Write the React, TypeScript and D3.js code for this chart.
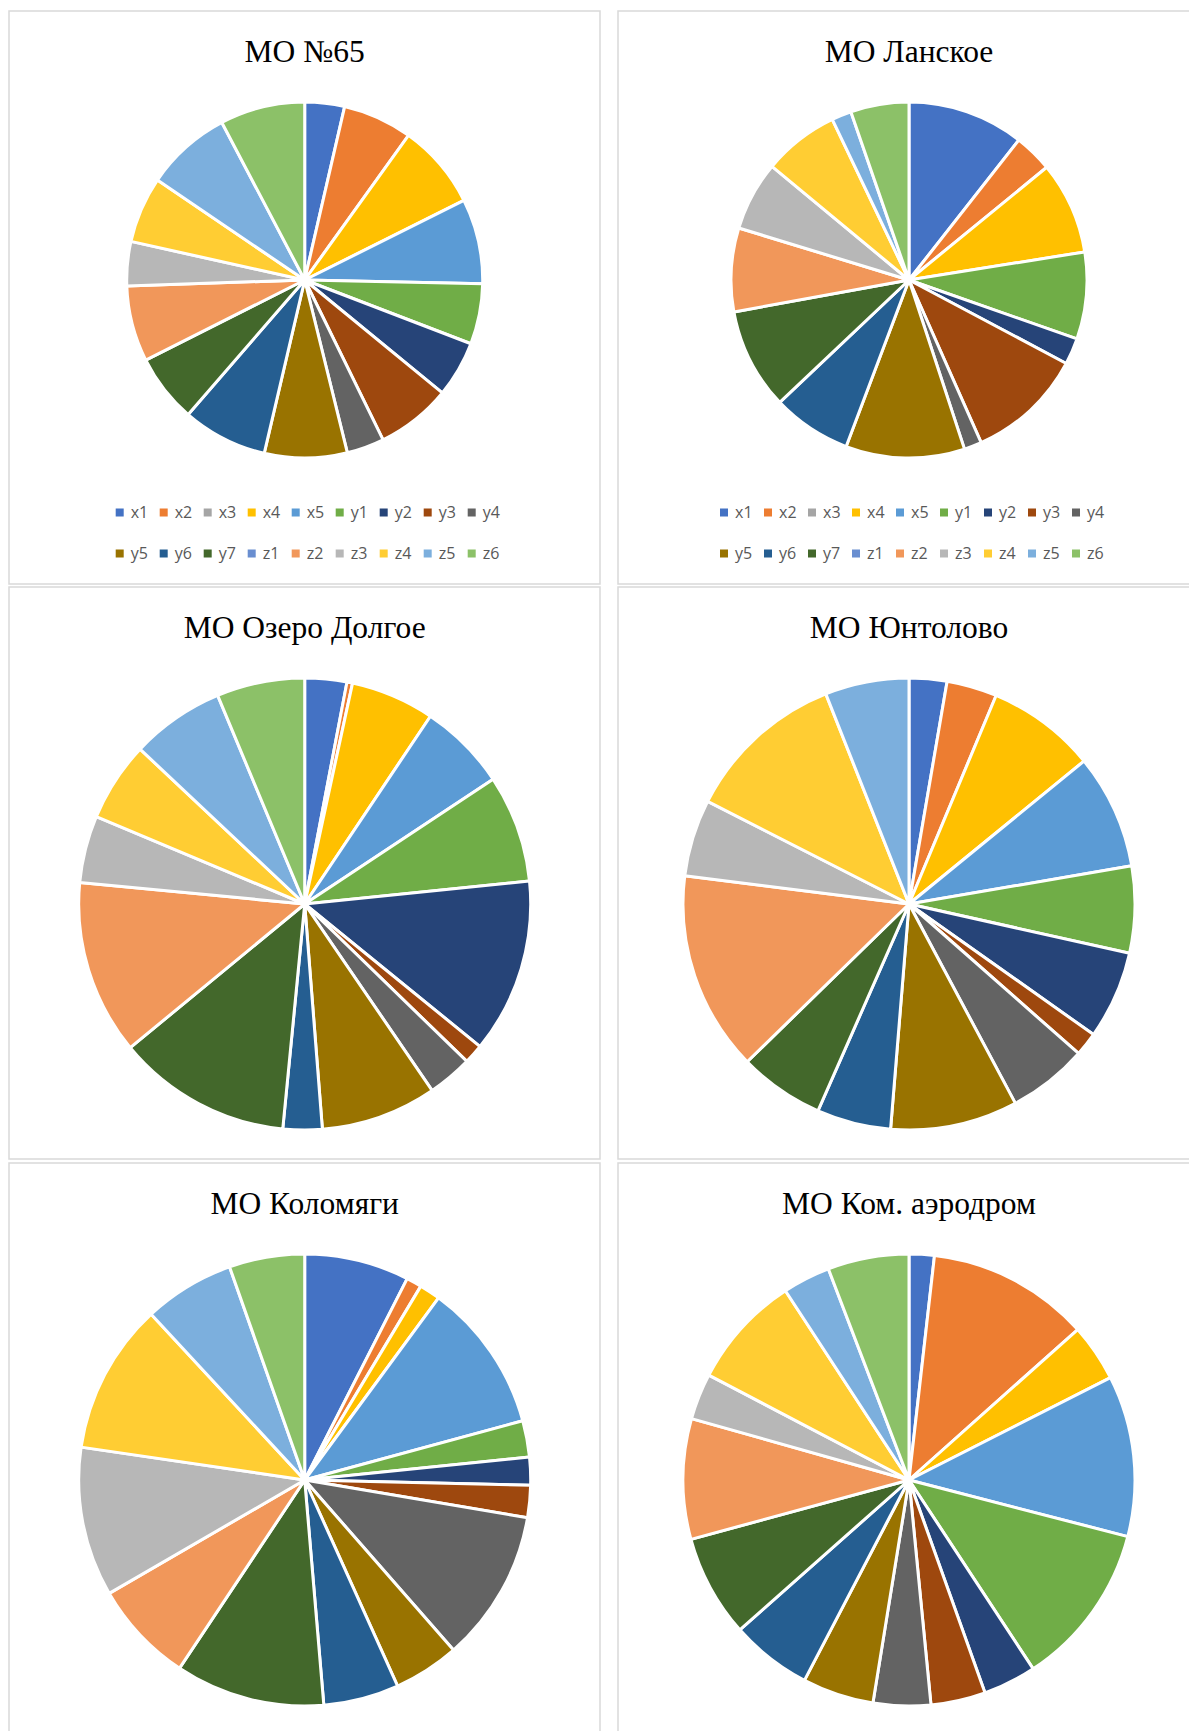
import * as d3 from "d3";

// categories shared by all six pies
const categories = ["x1", "x2", "x3", "x4", "x5", "y1", "y2", "y3", "y4", "y5", "y6", "y7", "z1", "z2", "z3", "z4", "z5", "z6"];
const colors = [
  "#4472C4", "#ED7D31", "#A5A5A5", "#FFC000", "#5B9BD5", "#70AD47",
  "#264478", "#9E480E", "#636363", "#997300", "#255E91", "#43682B",
  "#698ED0", "#F1975A", "#B7B7B7", "#FFCD33", "#7CAFDD", "#8CC168",
];

// shares (%), in category order
const mo65 = [3.6, 6.3, 0, 7.7, 7.7, 5.5, 5.1, 6.8, 3.4, 7.5, 7.7, 6.2, 0, 6.9, 4.0, 6.0, 7.8, 7.7];
const lanskoe = [10.6, 3.5, 0, 8.4, 0, 7.9, 2.4, 10.6, 1.6, 10.8, 7.2, 9.2, 0, 7.6, 6.3, 6.9, 1.8, 5.3];
const ozeroDolgoe = [3.0, 0.4, 0, 6.0, 6.3, 7.7, 12.5, 1.4, 3.2, 8.3, 2.8, 12.5, 0, 12.5, 4.8, 5.7, 6.7, 6.3];
const yuntolovo = [2.7, 3.6, 0, 7.8, 8.2, 6.2, 6.3, 1.7, 5.7, 9.1, 5.3, 6.1, 0, 14.3, 5.5, 11.5, 6.0, 0];
const kolomyagi = [7.5, 1.1, 0, 1.5, 10.7, 2.6, 2.0, 2.3, 10.9, 4.7, 5.4, 10.7, 0, 7.3, 10.7, 10.8, 6.5, 5.4];
const komAerodrom = [1.8, 11.6, 0, 4.1, 11.5, 11.7, 3.8, 3.9, 4.1, 5.1, 5.8, 7.3, 0, 8.6, 3.3, 8.1, 3.4, 5.8];

const titles = ["МО №65", "МО Ланское", "МО Озеро Долгое", "МО Юнтолово", "МО Коломяги", "МО Ком. аэродром"];
const series = [mo65, lanskoe, ozeroDolgoe, yuntolovo, kolomyagi, komAerodrom];

const W = 1189;
const H = 1731;

// panel frames: two columns, three rows
const cols = [
  { x: 9, w: 591, cx: 304.7 },
  { x: 618, w: 590, cx: 909 },
];
const rows = [
  { y: 11, h: 573, cy: 280, r: 178, legend: true },
  { y: 587, h: 572, cy: 904, r: 226, legend: false },
  { y: 1163, h: 580, cy: 1480, r: 226, legend: false },
];

const pie = d3.pie<number>().sort(null).value((d) => d);

function Panel({ idx }: { idx: number }) {
  const col = cols[idx % 2];
  const row = rows[Math.floor(idx / 2)];
  const arcs = pie(series[idx]);
  const arc = d3.arc<d3.PieArcDatum<number>>().innerRadius(0).outerRadius(row.r);

  const perRow = 9;
  const pitch = 44;
  const legendX = col.cx - 189;

  return (
    <g>
      <rect x={col.x} y={row.y} width={col.w} height={row.h} fill="#fff" stroke="#d9d9d9" strokeWidth={1.5} />
      <text
        x={col.cx}
        y={row.y + 51}
        textAnchor="middle"
        fontFamily="'Liberation Serif', 'Times New Roman', serif"
        fontSize={31.5}
        fill="#000"
      >
        {titles[idx]}
      </text>
      <g transform={`translate(${col.cx},${row.cy})`}>
        {arcs.map((a, i) =>
          a.value > 0 ? (
            <path key={i} d={arc(a) || ""} fill={colors[i]} stroke="#fff" strokeWidth={3} strokeLinejoin="round" />
          ) : null
        )}
      </g>
      {row.legend && (
        <g fontFamily="'Open Sans', 'Liberation Sans', sans-serif" fontSize={16} fill="#595959">
          {categories.map((c, i) => {
            const lx = legendX + (i % perRow) * pitch;
            const ly = row.y + 501.5 + Math.floor(i / perRow) * 41;
            return (
              <g key={c}>
                <rect x={lx} y={ly - 4} width={8} height={8} fill={colors[i]} />
                <text x={lx + 15} y={ly + 5.5}>{c}</text>
              </g>
            );
          })}
        </g>
      )}
    </g>
  );
}

export default function App() {
  return (
    <svg
      width={W}
      height={H}
      viewBox={`0 0 ${W} ${H}`}
      style={{ position: "absolute", left: 0, top: 0, display: "block", background: "#fff" }}
    >
      <rect width={W} height={H} fill="#fff" />
      {titles.map((t, i) => (
        <Panel key={t} idx={i} />
      ))}
    </svg>
  );
}
